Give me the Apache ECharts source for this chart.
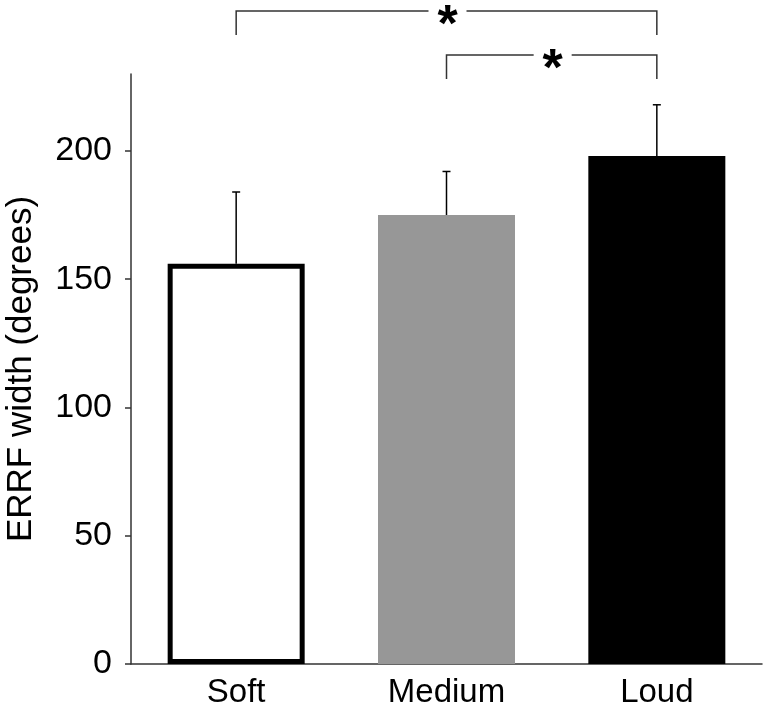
<!DOCTYPE html>
<html><head><meta charset="utf-8">
<script src="https://cdn.jsdelivr.net/npm/echarts@6/dist/echarts.min.js"></script>
<style>html,body{margin:0;padding:0;background:#fff}#c{width:764px;height:708px}</style>
</head><body><div id="c"></div>
<script>
var categories = ['Soft', 'Medium', 'Loud'];
var means = [156, 175, 198];
var upperErr = [184, 192, 218];
var yTicks = [0, 50, 100, 150, 200];
var yName = 'ERRF width (degrees)';
var brackets = [[0, 2], [1, 2]];
var bracketLabel = '*';

var chart = echarts.init(document.getElementById('c'));
var font = 'Liberation Sans, Arial, sans-serif';
var barStyles = [
  {color: '#ffffff', borderColor: '#000', borderWidth: 5},
  {color: '#979797'},
  {color: '#000000'}
];
chart.setOption({
  animation: false,
  grid: {left: 131, right: 2, top: 74, bottom: 44, containLabel: false, outerBoundsMode: 'none'},
  xAxis: {
    type: 'category', data: categories,
    axisLine: {lineStyle: {color: '#333', width: 1.5}},
    axisTick: {show: false},
    axisLabel: {color: '#000', fontSize: 33, fontFamily: font, margin: 12}
  },
  yAxis: {
    type: 'value', min: 0, max: 230,
    name: yName, nameLocation: 'middle', nameGap: 92,
    nameTextStyle: {color: '#000', fontSize: 35, fontFamily: font},
    splitLine: {show: false},
    axisLine: {show: true, lineStyle: {color: '#333', width: 1.5}},
    axisTick: {show: true, length: 6, customValues: yTicks, lineStyle: {color: '#333', width: 1.5}},
    axisLabel: {color: '#000', fontSize: 34, fontFamily: font, margin: 19, customValues: yTicks}
  },
  series: [
    {
      type: 'bar', barWidth: 137,
      data: means.map(function (v, i) { return {value: v, itemStyle: barStyles[i]}; }),
      z: 2
    },
    {
      type: 'custom', z: 1,
      data: means.map(function (v, i) { return [i, v, upperErr[i]]; }),
      renderItem: function (params, api) {
        var p0 = api.coord([api.value(0), api.value(1)]);
        var p1 = api.coord([api.value(0), api.value(2)]);
        var s = {stroke: '#000', lineWidth: 1.5};
        return {type: 'group', children: [
          {type: 'line', shape: {x1: p0[0], y1: p0[1], x2: p1[0], y2: p1[1]}, style: s},
          {type: 'line', shape: {x1: p1[0] - 4, y1: p1[1], x2: p1[0] + 4, y2: p1[1]}, style: s}
        ]};
      }
    },
    {
      type: 'custom', z: 3, clip: false,
      data: brackets,
      renderItem: function (params, api) {
        var a = api.coord([api.value(0), 0])[0];
        var b = api.coord([api.value(1), 0])[0];
        var idx = params.dataIndex;
        var top = 74 - 63 + idx * 44;
        var bottom = top + 24;
        var mid = (a + b) / 2 + 1;
        var gap = 19;
        var s = {stroke: '#333', lineWidth: 1.5, fill: null};
        return {type: 'group', children: [
          {type: 'polyline', shape: {points: [[a, bottom], [a, top], [mid - gap, top]]}, style: s},
          {type: 'polyline', shape: {points: [[mid + gap, top], [b, top], [b, bottom]]}, style: s},
          {type: 'text', x: mid, y: top + 16, style: {text: bracketLabel, fill: '#000', fontSize: 52, fontWeight: 'bold', fontFamily: font, align: 'center', verticalAlign: 'middle'}}
        ]};
      }
    }
  ]
});
</script></body></html>
